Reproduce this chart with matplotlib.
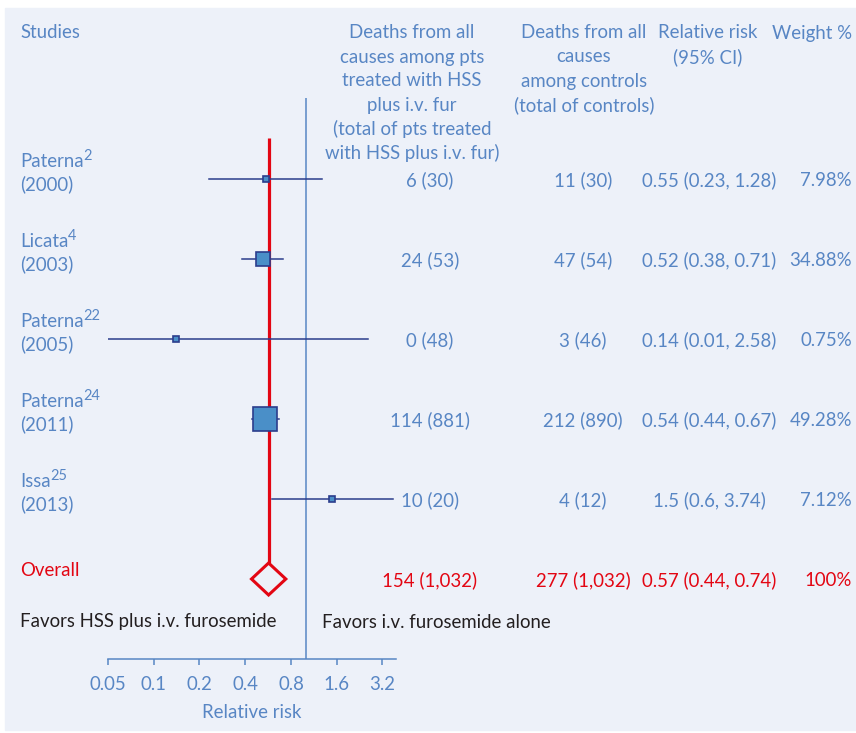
import numpy as np
import matplotlib.pyplot as plt
import matplotlib.transforms as mtransforms
from matplotlib.patches import Rectangle, Polygon
from matplotlib.ticker import NullLocator

# ---- data -------------------------------------------------------------
study_names = ["Paterna", "Licata", "Paterna", "Paterna", "Issa"]
study_refs = ["2", "4", "22", "24", "25"]
study_years = [2000, 2003, 2005, 2011, 2013]

rr = [0.55, 0.52, 0.14, 0.54, 1.5]
ci_low = [0.23, 0.38, 0.01, 0.44, 0.6]
ci_high = [1.28, 0.71, 2.58, 0.67, 3.74]
weights = [7.98, 34.88, 0.75, 49.28, 7.12]

treated_deaths = [6, 24, 0, 114, 10]
treated_total = [30, 53, 48, 881, 20]
control_deaths = [11, 47, 3, 212, 4]
control_total = [30, 54, 46, 890, 12]

overall_rr = 0.57
overall_ci = (0.44, 0.74)
overall_treated = (154, 1032)
overall_control = (277, 1032)
overall_weight = "100%"

tick_values = [0.05, 0.1, 0.2, 0.4, 0.8, 1.6, 3.2]
tick_labels = ["0.05", "0.1", "0.2", "0.4", "0.8", "1.6", "3.2"]

header_treated = ["Deaths from all", "causes among pts", "treated with HSS",
                  "plus i.v. fur", "(total of pts treated", "with HSS plus i.v. fur)"]
header_control = ["Deaths from all", "causes", "among controls", "(total of controls)"]
header_rr = ["Relative risk", "(95% CI)"]

# ---- style ------------------------------------------------------------
BLUE = "#5886c4"
NAVY = "#2b3d8c"
FILL = "#4a8fc8"
RED = "#e30613"
BG = "#edf1f9"
FONT = "Lato"
FS = 13.4

plt.rcParams["font.family"] = [FONT, "DejaVu Sans"]

W, H = 856, 733
fig = plt.figure(figsize=(W / 100, H / 100), dpi=100)
fig.patches.append(Rectangle((5 / W, 3 / H), (W - 5) / W, (730 - 8) / H,
                             transform=fig.transFigure, color=BG, zorder=-5))

# forest axes: x from 108px to 396px, bottom spine at 659px
ax = fig.add_axes([108 / W, (H - 659) / H, (396 - 108) / W, (659 - 8) / H])
ax.set_facecolor("none")
ax.set_xscale("log", base=2)
ax.set_xlim(0.05, 3.93)
ax.set_ylim(6.0, -2.1375)

for s in ["top", "right", "left"]:
    ax.spines[s].set_visible(False)
ax.spines["bottom"].set_color(BLUE)
ax.spines["bottom"].set_linewidth(1.1)
ax.set_yticks([])
ax.set_xticks(tick_values, labels=tick_labels)
ax.xaxis.set_minor_locator(NullLocator())
ax.tick_params(axis="x", direction="out", length=4, width=1.1, color=BLUE,
               labelcolor=BLUE, labelsize=FS, pad=8)
ax.set_xlabel("Relative risk", color=BLUE, fontsize=FS, labelpad=8)

rows = np.arange(len(rr))
n = len(rr)

# line of no effect and overall estimate
ax.vlines(1, -1.01, 6.0, color=BLUE, lw=1.1, zorder=1)
ax.vlines(overall_rr, -0.51, n - 0.2, color=RED, lw=2.3, zorder=2)

for i in rows:
    ax.plot([ci_low[i], ci_high[i]], [i, i], color=NAVY, lw=1.1, zorder=3)
    size_px = max(6.5, 24 * (weights[i] / max(weights)) ** 1.7)
    ax.plot(rr[i], i, marker="s", ms=size_px * 0.72, mfc=FILL, mec=NAVY,
            mew=1.2, zorder=4)

diamond = Polygon([(overall_ci[0], n), (overall_rr, n - 0.2),
                   (overall_ci[1], n), (overall_rr, n + 0.2)],
                  closed=True, fill=False, edgecolor=RED, lw=2.2, zorder=4)
ax.add_patch(diamond)

# ---- text -------------------------------------------------------------
row_tr = mtransforms.blended_transform_factory(fig.transFigure, ax.transData)


def fx(x):
    return x / W


def fy(y):
    return 1 - y / H


def row_text(x, y, s, color=BLUE, ha="center"):
    ax.text(fx(x), y, s, transform=row_tr, color=color, fontsize=FS,
            ha=ha, va="center_baseline")


fig.text(fx(20), fy(33), "Studies", color=BLUE, fontsize=FS, va="center")
for k, line in enumerate(header_treated):
    fig.text(fx(412), fy(33 + 24 * k), line, color=BLUE, fontsize=FS,
             ha="center", va="center")
for k, line in enumerate(header_control):
    fig.text(fx(584), fy(33 + 24 * k), line, color=BLUE, fontsize=FS,
             ha="center", va="center")
for k, line in enumerate(header_rr):
    fig.text(fx(708), fy(33 + 24 * k), line, color=BLUE, fontsize=FS,
             ha="center", va="center")
fig.text(fx(852), fy(33), "Weight %", color=BLUE, fontsize=FS,
         ha="right", va="center")

for i in rows:
    name = ax.text(fx(20), i - 0.235, study_names[i], transform=row_tr,
                   color=BLUE, fontsize=FS, va="center_baseline")
    ax.annotate(study_refs[i], xy=(1, 0.85), xycoords=name, xytext=(-0.3, 0),
                textcoords="offset points", color=BLUE, fontsize=FS * 0.78,
                ha="left", va="center")
    row_text(20, i + 0.05, f"({study_years[i]})", ha="left")
    row_text(430, i, f"{treated_deaths[i]:,} ({treated_total[i]:,})")
    row_text(583, i, f"{control_deaths[i]:,} ({control_total[i]:,})")
    row_text(709, i, f"{rr[i]:g} ({ci_low[i]:g}, {ci_high[i]:g})")
    row_text(852, i, f"{weights[i]:g}%", ha="right")

row_text(20, n - 0.12, "Overall", color=RED, ha="left")
row_text(430, n, f"{overall_treated[0]:,} ({overall_treated[1]:,})", color=RED)
row_text(583, n, f"{overall_control[0]:,} ({overall_control[1]:,})", color=RED)
row_text(709, n, f"{overall_rr:g} ({overall_ci[0]:g}, {overall_ci[1]:g})",
         color=RED)
row_text(852, n, overall_weight, color=RED, ha="right")

fig.text(fx(20), fy(622), "Favors HSS plus i.v. furosemide", color="#231f20",
         fontsize=FS, va="center")
fig.text(fx(322), fy(622), "Favors i.v. furosemide alone", color="#231f20",
         fontsize=FS, va="center")

fig.savefig("out.png", dpi=100, facecolor="white")
